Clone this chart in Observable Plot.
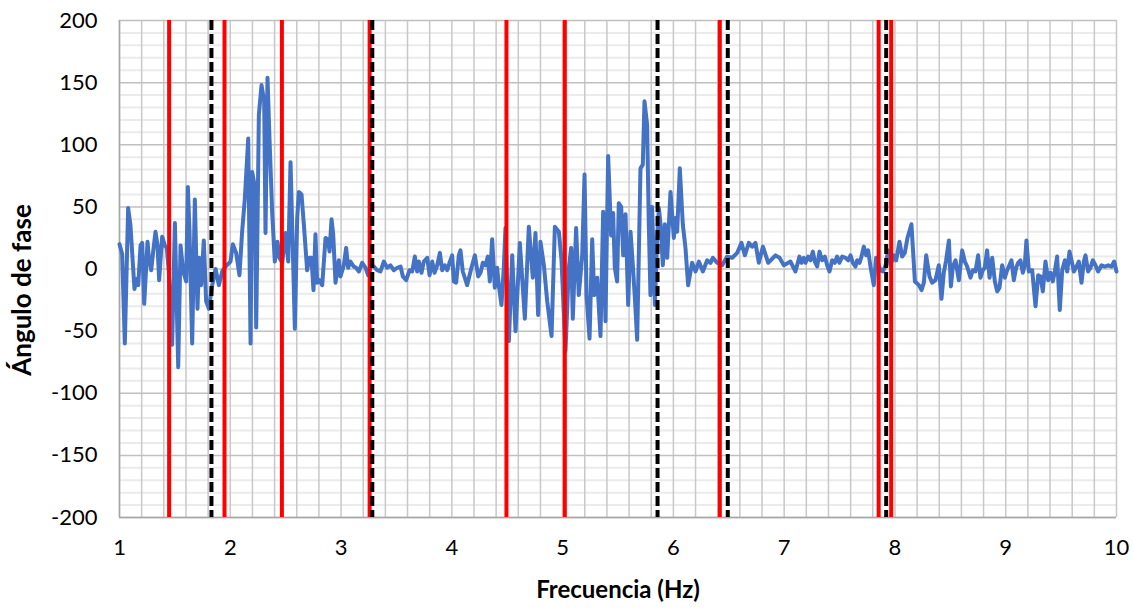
<!DOCTYPE html>
<html>
<head>
<meta charset="utf-8">
<script src="https://cdn.jsdelivr.net/npm/d3@7"></script>
<script src="https://cdn.jsdelivr.net/npm/@observablehq/plot@0.6"></script>
<style>
  html, body { margin: 0; padding: 0; background: #fff; }
  #chart { width: 1134px; height: 608px; }
</style>
</head>
<body>
<div id="chart"></div>
<script>
// Frequency (Hz) of each sample of the phase-angle curve
const freq = [
  1.000,1.024,1.048,1.078,1.099,1.135,1.153,1.169,1.190,1.205,1.223,1.253,1.265,1.286,1.304,1.325,1.343,1.358,1.385,1.409,
  1.427,1.445,1.475,1.500,1.530,1.551,1.575,1.602,1.617,1.632,1.656,1.680,1.704,1.719,1.737,1.761,1.782,1.807,1.837,1.867,
  1.897,1.927,1.957,2.002,2.023,2.053,2.083,2.107,2.131,2.162,2.183,2.198,2.222,2.234,2.258,2.282,2.306,2.318,2.336,2.354,
  2.378,2.402,2.426,2.444,2.469,2.499,2.523,2.544,
  2.565,2.583,2.604,2.619,2.643,2.664,2.694,2.715,2.733,2.751,2.769,2.784,2.805,2.830,2.860,2.881,2.896,2.914,2.929,2.950,
  2.980,2.995,3.025,3.046,3.064,3.085,3.115,3.136,3.161,3.191,3.221,3.245,3.266,3.296,3.326,3.356,3.386,3.416,3.446,3.477,
  3.507,3.537,3.558,3.588,3.618,3.642,3.666,3.687,3.702,3.726,3.747,3.778,3.799,3.823,3.844,3.868,3.892,3.913,3.937,3.958,
  3.979,4.003,4.018,4.039,4.063,4.078,
  4.099,4.138,4.177,4.208,4.238,4.259,4.280,4.304,4.325,4.343,4.364,4.388,4.409,4.424,4.448,4.469,4.484,4.515,4.545,4.575,
  4.614,4.659,4.695,4.731,4.755,4.779,4.800,4.831,4.861,4.900,4.930,4.966,4.990,5.026,5.056,5.077,5.092,5.122,5.146,5.177,
  5.198,5.216,5.243,5.267,5.285,5.312,5.342,5.366,5.387,5.411,5.438,5.456,5.471,5.492,5.507,5.529,5.547,
  5.568,5.592,5.613,5.634,5.652,5.673,5.703,5.724,5.739,5.763,5.778,5.793,5.808,5.833,5.854,5.869,5.884,5.905,5.923,5.944,
  5.974,6.004,6.019,6.034,6.058,6.085,6.109,6.133,6.169,6.200,6.230,6.266,6.305,6.335,6.356,6.395,6.440,6.485,6.531,6.576,
  6.615,6.645,6.681,6.711,6.741,6.771,6.808,6.856,6.922,6.958,6.997,7.057,7.102,7.117,7.138,
  7.156,7.177,7.193,7.217,7.238,7.259,7.277,7.298,7.319,7.343,7.367,7.388,7.409,7.433,7.457,7.478,7.499,7.524,7.554,7.578,
  7.599,7.620,7.644,7.659,7.680,7.698,7.719,7.740,7.758,7.779,7.809,7.830,7.870,7.891,7.915,7.939,7.960,7.990,8.011,8.041,
  8.065,8.089,8.113,8.149,8.180,8.216,8.240,8.261,8.282,8.312,8.336,8.366,8.396,8.420,8.441,8.462,8.487,8.505,8.523,8.547,
  8.577,8.607,8.631,8.652,8.682,
  8.703,8.727,8.751,8.772,8.793,8.811,8.832,8.854,8.878,8.902,8.923,8.944,8.968,8.992,9.013,9.028,9.052,9.073,9.094,9.112,
  9.133,9.154,9.172,9.187,9.209,9.239,9.269,9.293,9.314,9.335,9.359,9.383,9.404,9.425,9.443,9.464,9.488,9.510,9.534,9.555,
  9.576,9.594,9.615,9.639,9.660,9.684,9.705,9.720,9.744,9.765,9.786,9.810,9.834,9.865,9.895,9.925,9.955,9.979,10.000
];

// Phase angle (degrees) for each frequency above
const phase = [
  20,12,-60,49,35,-16,-8,-13,19,21,-28,22,9,-1,14,30,19,-9,26,19,
  17,-2,-61,37,-79,19,-2,-10,66,30,-60,56,-32,9,-13,23,-26,-32,-13,0,
  -13,-2,2,6,20,13,-5,30,56,105,-60,78,66,-47,124,148,135,29,154,105,
  46,6,22,9,5,29,6,86,
  14,-48,41,62,60,36,-1,9,9,-17,28,-11,-9,-13,25,24,14,40,28,-11,
  7,-6,3,17,1,6,2,1,-2,5,1,-5,2,2,-1,-2,6,1,3,-1,
  1,2,-6,-9,-1,-2,10,-2,6,-3,6,9,-5,6,-3,3,13,-1,3,-1,
  5,11,-10,-11,11,15,
  -2,-13,1,11,-6,-3,5,3,10,-10,24,-15,1,-13,-29,1,33,-58,11,-50,
  21,-40,34,-7,29,-37,22,3,-26,-54,34,30,7,-66,1,17,-40,33,-21,11,
  76,-21,-56,24,-21,-7,-54,46,-42,91,27,45,1,-10,53,50,11,
  44,-29,30,3,-23,-57,81,84,135,116,36,-21,50,-29,27,49,36,3,36,9,
  62,25,41,30,81,36,17,-13,5,-2,6,-2,7,5,9,5,3,10,9,13,
  21,11,21,18,21,5,18,5,11,9,3,6,-2,3,10,
  5,9,5,10,7,14,6,2,14,7,10,3,-2,7,5,10,5,10,9,7,
  11,5,2,7,5,10,18,11,15,2,-13,9,-1,-2,3,15,3,11,7,22,
  10,13,25,36,-10,-13,-17,-11,11,-6,-11,-9,3,-24,-3,7,23,-14,2,7,
  -9,15,6,2,-7,
  -1,-2,11,-7,-1,1,15,-7,9,-10,-18,-15,3,-7,-1,2,7,-9,1,5,
  7,-3,3,23,-2,-1,-30,-5,-6,-18,6,-9,-3,-10,-2,10,-33,-1,7,-2,
  14,7,-2,2,6,-11,6,11,-2,1,7,3,-2,3,2,3,2,6,-2
];

// Marked frequencies
const redLines = [1.448, 1.948, 2.466, 3.258, 4.493, 5.020, 6.419, 7.853, 7.966];
const blackDashed = [1.830, 3.282, 5.857, 6.491, 7.921];

// Axis ticks
const xTicks = [1, 2, 3, 4, 5, 6, 7, 8, 9, 10];
const yTicks = [-200, -150, -100, -50, 0, 50, 100, 150, 200];
const xGrid = d3.range(1, 10.0001, 0.2).map(v => +v.toFixed(1));
const yMinor = d3.range(-190, 200, 10).filter(v => v % 50 !== 0);

const xTitle = "Frecuencia (Hz)";
const yTitle = "Ángulo de fase";

const data = freq.map((f, i) => ({f, v: phase[i]}));

const chart = Plot.plot({
  width: 1134,
  height: 608,
  marginLeft: 119,
  marginRight: 18,
  marginTop: 20,
  marginBottom: 91,
  style: {fontFamily: "Lato, 'Open Sans', sans-serif", color: "#000", background: "#fff"},
  x: {domain: [1, 10]},
  y: {domain: [-200, 200]},
  marks: [
    Plot.ruleY(yMinor, {stroke: "#ebebeb", strokeWidth: 2}),
    Plot.ruleX(xGrid, {stroke: "#c8c8c8", strokeWidth: 1.5}),
    Plot.ruleY(yTicks, {stroke: "#c0c0c0", strokeWidth: 1.5}),
    Plot.ruleX([1], {stroke: "#a6a6a6", strokeWidth: 1.5}),
    Plot.ruleY([-200], {stroke: "#a6a6a6", strokeWidth: 1.5}),
    Plot.line(data, {x: "f", y: "v", stroke: "#4472C4", strokeWidth: 4, strokeLinejoin: "round", strokeLinecap: "round"}),
    Plot.ruleX(redLines, {stroke: "#FF0000", strokeWidth: 4}),
    Plot.ruleX(blackDashed, {stroke: "#000", strokeWidth: 4, strokeDasharray: "10,4"}),
    Plot.axisX(xTicks, {tickSize: 0, tickPadding: 22, fontSize: 22, label: null, tickFormat: d => String(d)}),
    Plot.axisY(yTicks, {tickSize: 0, tickPadding: 22, fontSize: 22, label: null, tickFormat: d => String(d)}),
    Plot.text([xTitle], {frameAnchor: "bottom", textAnchor: "middle", lineAnchor: "middle", dy: 73, fontSize: 24, fontWeight: "bold", fill: "#000"}),
    Plot.text([yTitle], {frameAnchor: "left", textAnchor: "middle", lineAnchor: "middle", dx: -97, dy: 21, rotate: -90, fontSize: 26, fontWeight: "bold", fill: "#000"})
  ]
});

document.getElementById("chart").appendChild(chart);
</script>
</body>
</html>
